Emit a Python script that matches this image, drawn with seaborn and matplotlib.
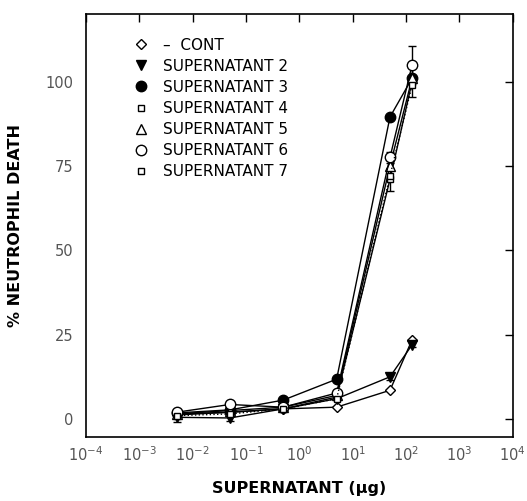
import numpy as np
import pandas as pd
import matplotlib
matplotlib.use("Agg")
import matplotlib.pyplot as plt
import seaborn as sns

# ---- data ----
dose = [0.005, 0.05, 0.5, 5, 50, 130]
cont = [1.5, 2.0, 3.0, 3.5, 8.5, 23.5]
sup2 = [0.5, 0.3, 3.0, 6.0, 12.5, 22.0]
sup3 = [1.8, 2.7, 5.6, 11.8, 89.5, 101.0]
sup4 = [1.2, 2.0, 3.0, 6.5, 71.0, 100.0]
sup5 = [1.5, 2.5, 3.5, 7.0, 75.0, 101.0]
sup6 = [2.0, 4.3, 3.5, 7.7, 77.5, 105.0]
sup7 = [1.0, 1.5, 3.0, 6.0, 72.0, 99.0]
err6 = [0.8, 1.0, 0.5, 0.8, 1.5, 5.5]
err4 = [0.5, 0.5, 0.5, 0.5, 3.5, 4.5]
err2 = [1.5, 0.8, 0.5, 0.5, 0.8, 0.8]

labels = ["–  CONT", "SUPERNATANT 2", "SUPERNATANT 3", "SUPERNATANT 4",
          "SUPERNATANT 5", "SUPERNATANT 6", "SUPERNATANT 7"]
xticks = [1e-4, 1e-3, 1e-2, 1e-1, 1e0, 1e1, 1e2, 1e3, 1e4]
xticklabels = [r"$10^{-4}$", r"$10^{-3}$", r"$10^{-2}$", r"$10^{-1}$",
               r"$10^{0}$", r"$10^{1}$", r"$10^{2}$", r"$10^{3}$", r"$10^{4}$"]
yticks = [0, 25, 50, 75, 100]

series = [cont, sup2, sup3, sup4, sup5, sup6, sup7]
styles = [
    dict(marker="D", mfc="white", ms=5.5, ls="-"),
    dict(marker="v", mfc="black", ms=7, ls="-"),
    dict(marker="o", mfc="black", ms=7.5, ls="-"),
    dict(marker="s", mfc="white", ms=5.0, ls="-"),
    dict(marker="^", mfc="white", ms=6.5, ls="-"),
    dict(marker="o", mfc="white", ms=7.5, ls="-"),
    dict(marker="s", mfc="white", ms=5.0, ls=":"),
]

sns.set_theme(style="white")
plt.rcParams["font.family"] = ["DejaVu Sans"]
plt.rcParams["text.color"] = "black"
plt.rcParams["axes.labelcolor"] = "black"

fig = plt.figure(figsize=(5.27, 5.01), dpi=100)
ax = fig.add_axes([0.163, 0.128, 0.810, 0.844])

for vals, lab, st in zip(series, labels, styles):
    df = pd.DataFrame({"dose": dose, "death": vals})
    sns.lineplot(data=df, x="dose", y="death", ax=ax, color="black",
                 linewidth=1.0, linestyle=st["ls"], marker=st["marker"],
                 markersize=st["ms"], markerfacecolor=st["mfc"],
                 markeredgecolor="black", markeredgewidth=1.0,
                 label=lab, legend=False, zorder=3)

for vals, err in [(sup6, err6), (sup4, err4), (sup2, err2)]:
    ax.errorbar(dose, vals, yerr=err, fmt="none", ecolor="black",
                elinewidth=1.0, capsize=3, capthick=1.0, zorder=2)

ax.set_xscale("log")
ax.set_xlim(1e-4, 1e4)
ax.set_ylim(-5.3, 120)
ax.set_xticks(xticks)
ax.set_xticklabels(xticklabels)
ax.set_yticks(yticks)
ax.minorticks_off()
ax.tick_params(axis="both", which="major", direction="in", length=6,
               width=1.0, top=True, right=True, labelsize=10.5,
               labelcolor="#555555", color="black")
ax.tick_params(axis="x", pad=6)
ax.tick_params(axis="y", pad=9)
for sp in ax.spines.values():
    sp.set_visible(True)
    sp.set_color("black")
    sp.set_linewidth(1.2)

ax.set_xlabel("SUPERNATANT (μg)", fontsize=11.5, fontweight="bold",
              labelpad=12, color="black")
ax.set_ylabel("% NEUTROPHIL DEATH", fontsize=11.5, fontweight="bold",
              labelpad=16, color="black")

leg = ax.legend(loc="upper left", bbox_to_anchor=(0.09, 0.966), frameon=False,
                fontsize=11, handlelength=1.0, handletextpad=0.9,
                labelspacing=0.4, borderaxespad=0.2, labelcolor="black")
for h in leg.legend_handles:
    h.set_linestyle("none")

fig.savefig("out.png", dpi=100)
